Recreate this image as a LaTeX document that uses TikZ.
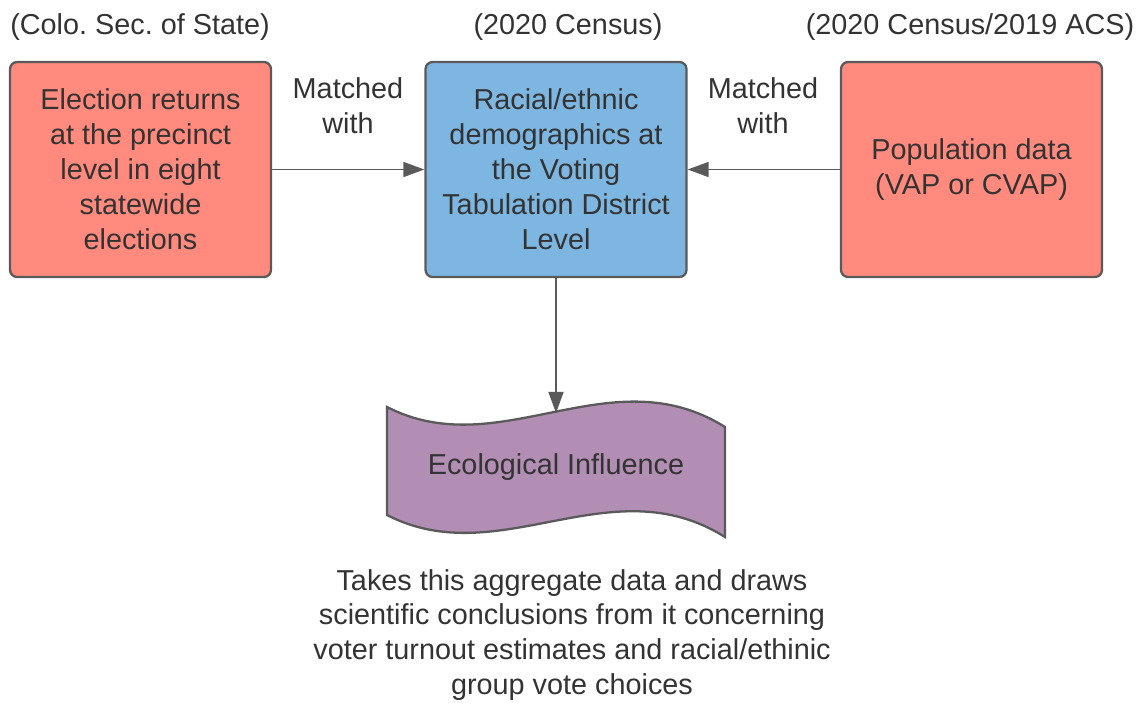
\documentclass[tikz,border=0pt]{standalone}
\usepackage{fontspec}
\setmainfont{Liberation Sans}
\frenchspacing
\usetikzlibrary{arrows.meta}
\definecolor{salmon}{RGB}{255,138,125}
\definecolor{skyblue}{RGB}{126,182,226}
\definecolor{mauve}{RGB}{178,141,180}
\definecolor{edgegray}{RGB}{90,90,90}
\definecolor{txtgray}{RGB}{51,51,51}
\tikzset{
  box/.style={draw=edgegray, line width=1.3pt, rounded corners=4pt, minimum width=5.22cm, minimum height=4.3cm, align=center, text=txtgray},
  lbl/.style={align=center, text=txtgray},
  link/.style={draw=edgegray, line width=1.1pt, -{Triangle[length=12pt,width=8.5pt]}},
}
\begin{document}
\begin{tikzpicture}[x=0.02cm, y=-0.02cm, font=\fontsize{16.4}{19.9}\selectfont]
\useasboundingbox (0,0) rectangle (1141,703);
\node[box, fill=salmon](R) at (140.5, 169.5) {Election returns\\at the precinct\\level in eight\\statewide\\elections};
\node[box, fill=skyblue](D) at (556, 169.5) {Racial/ethnic\\demographics at\\the Voting\\Tabulation District\\Level};
\node[box, fill=salmon](P) at (971.5, 169.5) {Population data\\(VAP or CVAP)};
\node[lbl](Rs) at (140, 27) {(Colo. Sec. of State)};
\node[lbl](Ds) at (568, 27) {(2020 Census)};
\node[lbl](Ps) at (970, 27) {(2020 Census/2019 ACS)};
\node[lbl](m1) at (348, 106) {Matched\\with};
\node[lbl](m2) at (763, 106) {Matched\\with};
% wave shaped flag
\draw[draw=edgegray, line width=1.3pt, fill=mauve]
  (387,407) .. controls (500,465) and (610,355) .. (725,427)
  -- (725,537) .. controls (610,465) and (500,573) .. (387,515) -- cycle;
\coordinate(W) at (556,413);
\node[lbl](E) at (556, 467) {Ecological Influence};
\node[lbl](T) at (572, 635) {Takes this aggregate data and draws\\scientific conclusions from it concerning\\voter turnout estimates and racial/ethinic\\group vote choices};
\path
(R) edge[link] (D)
(P) edge[link] (D)
(D) edge[link] (W);
\end{tikzpicture}
\end{document}
